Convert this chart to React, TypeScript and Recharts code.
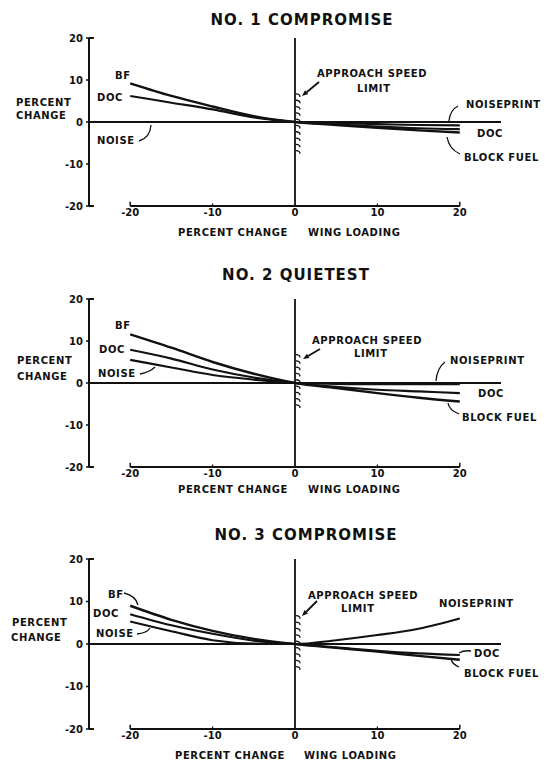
import {
    ComposedChart,
    Line,
    ReferenceLine,
    Scatter,
    XAxis,
    YAxis,
} from "recharts";

// wing loading change, percent
const xValues = [-20, -15, -10, -5, 0, 5, 10, 15, 20];
const xTicks = [-20, -10, 0, 10, 20];
const yTicks = [-20, -10, 0, 10, 20];

// No. 1 compromise
const p1BlockFuel = [9.2, 6.2, 3.7, 1.4, 0, -0.7, -1.4, -2.0, -2.5];
const p1Doc = [6.2, 4.6, 3.0, 1.1, 0, -0.6, -1.1, -1.5, -1.7];
const p1Noise = [0, 0, 0, 0, 0, -0.3, -0.5, -0.7, -0.8];
const p1Hatch = [6.2, 4.7, 3.2, 1.7, 0.2, -1.3, -2.8, -4.3, -5.8, -7.3];

// No. 2 quietest
const p2BlockFuel = [11.6, 8.4, 5.0, 2.2, 0, -1.2, -2.4, -3.5, -4.4];
const p2Doc = [7.9, 5.8, 3.2, 1.3, 0, -0.9, -1.6, -2.0, -2.4];
const p2Noise = [5.5, 3.7, 1.9, 0.8, 0, -0.2, -0.3, -0.3, -0.3];
const p2Hatch = [6.3, 4.8, 3.3, 1.8, 0.3, -1.2, -2.7, -4.2, -5.7];

// No. 3 compromise
const p3BlockFuel = [9.0, 5.7, 3.1, 1.2, 0, -0.9, -1.8, -2.8, -3.7];
const p3Doc = [7.0, 4.4, 2.4, 0.8, 0, -0.8, -1.6, -2.2, -2.6];
const p3Noise = [5.3, 3.0, 0.9, 0.1, 0, 0.9, 2.1, 3.6, 6.0];
const p3Hatch = [6.2, 4.7, 3.2, 1.7, 0.2, -1.3, -2.8, -4.3, -5.8];

const FONT = "'DejaVu Sans', sans-serif";
const INK = "#111";

function buildRows(bf: number[], doc: number[], noise: number[]) {
    return xValues.map((x, i) => ({ x, bf: bf[i], doc: doc[i], noise: noise[i] }));
}

const HatchMark = (props: any) => {
    const { cx, cy } = props;
    return (
        <path
            d={`M ${cx + 1} ${cy - 2} q 4 0 4 3`}
            fill="none"
            stroke={INK}
            strokeWidth={1.3}
        />
    );
};

interface PanelProps {
    top: number;
    plotHeight: number;
    bf: number[];
    doc: number[];
    noise: number[];
    hatch: number[];
}

function Panel({ top, plotHeight, bf, doc, noise, hatch }: PanelProps) {
    const rows = buildRows(bf, doc, noise);
    const tickStyle = { fontSize: 10, fontWeight: 700, fill: INK, fontFamily: FONT };
    return (
        <div style={{ position: "absolute", left: 0, top: top - 10 }}>
            <ComposedChart
                width={546}
                height={plotHeight + 40}
                data={rows}
                margin={{ top: 10, right: 45, bottom: 10, left: 0 }}
            >
                <XAxis
                    dataKey="x"
                    type="number"
                    domain={[-25, 25]}
                    ticks={xTicks}
                    height={20}
                    axisLine={false}
                    tickLine={false}
                    tickSize={0}
                    tickMargin={3}
                    tick={tickStyle}
                />
                <YAxis
                    type="number"
                    domain={[-20, 20]}
                    ticks={yTicks}
                    width={89}
                    axisLine={{ stroke: INK, strokeWidth: 2 }}
                    tickLine={{ stroke: INK, strokeWidth: 1.5 }}
                    tickSize={3}
                    tickMargin={3}
                    tick={tickStyle}
                />
                <ReferenceLine y={0} stroke={INK} strokeWidth={2.2} />
                <ReferenceLine x={0} stroke={INK} strokeWidth={1.8} />
                <ReferenceLine segment={[{ x: -20, y: -20 }, { x: 20, y: -20 }]} stroke={INK} strokeWidth={2.2} />
                <ReferenceLine segment={[{ x: -20, y: -20 }, { x: -20, y: -19 }]} stroke={INK} strokeWidth={1.5} />
                <ReferenceLine segment={[{ x: 20, y: -20 }, { x: 20, y: -19 }]} stroke={INK} strokeWidth={1.5} />
                <ReferenceLine segment={[{ x: -10, y: -20 }, { x: -10, y: -19.4 }]} stroke={INK} strokeWidth={1.2} />
                <ReferenceLine segment={[{ x: 10, y: -20 }, { x: 10, y: -19.4 }]} stroke={INK} strokeWidth={1.2} />
                <ReferenceLine segment={[{ x: -25, y: 20 }, { x: -24.4, y: 20 }]} stroke={INK} strokeWidth={2} />
                <ReferenceLine segment={[{ x: -25, y: -20 }, { x: -24.4, y: -20 }]} stroke={INK} strokeWidth={2} />
                <Line type="monotone" dataKey="bf" stroke={INK} strokeWidth={2.4} dot={false} isAnimationActive={false} />
                <Line type="monotone" dataKey="doc" stroke={INK} strokeWidth={2.1} dot={false} isAnimationActive={false} />
                <Line type="monotone" dataKey="noise" stroke={INK} strokeWidth={2.1} dot={false} isAnimationActive={false} />
                <Scatter
                    data={hatch.map((y) => ({ x: 0, y }))}
                    dataKey="y"
                    shape={HatchMark}
                    isAnimationActive={false}
                />
            </ComposedChart>
        </div>
    );
}

interface Note {
    t: string;
    x: number;
    y: number;
    size?: number;
    anchor?: "start" | "middle";
}

const notes: Note[] = [
    // panel 1
    { t: "NO. 1 COMPROMISE", x: 302, y: 20, size: 15, anchor: "middle" },
    { t: "BF", x: 115, y: 75 },
    { t: "DOC", x: 97, y: 97 },
    { t: "PERCENT", x: 16, y: 102 },
    { t: "CHANGE", x: 16, y: 115 },
    { t: "NOISE", x: 97, y: 140 },
    { t: "APPROACH SPEED", x: 317, y: 73 },
    { t: "LIMIT", x: 357, y: 88 },
    { t: "NOISEPRINT", x: 466, y: 104 },
    { t: "DOC", x: 477, y: 133 },
    { t: "BLOCK FUEL", x: 464, y: 157 },
    { t: "PERCENT CHANGE", x: 178, y: 232 },
    { t: "WING LOADING", x: 308, y: 232 },
    // panel 2
    { t: "NO. 2 QUIETEST", x: 296, y: 275, size: 15, anchor: "middle" },
    { t: "BF", x: 115, y: 325 },
    { t: "DOC", x: 99, y: 349 },
    { t: "NOISE", x: 98, y: 373 },
    { t: "PERCENT", x: 17, y: 360 },
    { t: "CHANGE", x: 17, y: 376 },
    { t: "APPROACH SPEED", x: 312, y: 340 },
    { t: "LIMIT", x: 354, y: 353 },
    { t: "NOISEPRINT", x: 450, y: 360 },
    { t: "DOC", x: 478, y: 393 },
    { t: "BLOCK FUEL", x: 462, y: 417 },
    { t: "PERCENT CHANGE", x: 178, y: 489 },
    { t: "WING LOADING", x: 308, y: 489 },
    // panel 3
    { t: "NO. 3 COMPROMISE", x: 306, y: 535, size: 15, anchor: "middle" },
    { t: "BF", x: 108, y: 594 },
    { t: "DOC", x: 93, y: 613 },
    { t: "NOISE", x: 96, y: 633 },
    { t: "PERCENT", x: 12, y: 622 },
    { t: "CHANGE", x: 11, y: 637 },
    { t: "APPROACH SPEED", x: 308, y: 595 },
    { t: "LIMIT", x: 341, y: 608 },
    { t: "NOISEPRINT", x: 439, y: 603 },
    { t: "DOC", x: 474, y: 653 },
    { t: "BLOCK FUEL", x: 464, y: 673 },
    { t: "PERCENT CHANGE", x: 175, y: 755 },
    { t: "WING LOADING", x: 304, y: 755 },
];

const leaders = [
    "M 139 141 Q 150 138 151 125",
    "M 458 106 Q 450 110 449 121",
    "M 460 154 Q 449 149 447 137",
    "M 140 374 Q 150 372 155 367",
    "M 445 362 Q 437 368 436 381",
    "M 459 414 Q 449 410 448 403",
    "M 124 593 Q 136 596 138 605",
    "M 137 634 Q 147 633 150 628",
    "M 459 653 Q 464 650 471 651",
    "M 459 667 Q 452 664 451 659",
];

const arrows = [
    [319, 82, 302, 96],
    [320, 349, 303, 359],
    [317, 601, 302, 616],
];

export default function App() {
    return (
        <div style={{ position: "absolute", left: 0, top: 0, width: 546, height: 763, background: "#fff" }}>
            <Panel top={38} plotHeight={168} bf={p1BlockFuel} doc={p1Doc} noise={p1Noise} hatch={p1Hatch} />
            <Panel top={299} plotHeight={168} bf={p2BlockFuel} doc={p2Doc} noise={p2Noise} hatch={p2Hatch} />
            <Panel top={559} plotHeight={170} bf={p3BlockFuel} doc={p3Doc} noise={p3Noise} hatch={p3Hatch} />
            <svg
                width={546}
                height={763}
                style={{ position: "absolute", left: 0, top: 0, pointerEvents: "none" }}
            >
                {notes.map((n, i) => (
                    <text
                        key={i}
                        x={n.x}
                        y={n.y}
                        dominantBaseline="central"
                        textAnchor={n.anchor ?? "start"}
                        fontFamily={FONT}
                        fontWeight={700}
                        fontSize={n.size ?? 10}
                        letterSpacing={n.size ? 1 : 0.6}
                        fill={INK}
                    >
                        {n.t}
                    </text>
                ))}
                {leaders.map((d, i) => (
                    <path key={i} d={d} fill="none" stroke={INK} strokeWidth={1.3} />
                ))}
                {arrows.map(([x1, y1, x2, y2], i) => {
                    const ang = Math.atan2(y2 - y1, x2 - x1);
                    const hx = x2 - Math.cos(ang) * 6;
                    const hy = y2 - Math.sin(ang) * 6;
                    const px = -Math.sin(ang) * 2.5;
                    const py = Math.cos(ang) * 2.5;
                    return (
                        <g key={i}>
                            <line x1={x1} y1={y1} x2={hx} y2={hy} stroke={INK} strokeWidth={1.8} />
                            <path d={`M ${x2} ${y2} L ${hx + px} ${hy + py} L ${hx - px} ${hy - py} Z`} fill={INK} />
                        </g>
                    );
                })}
            </svg>
        </div>
    );
}
